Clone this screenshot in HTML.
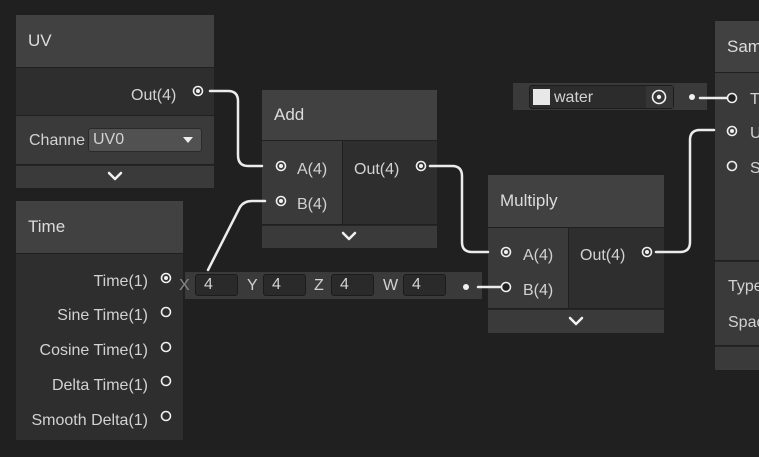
<!DOCTYPE html>
<html><head><style>
*{margin:0;padding:0;box-sizing:border-box}
body{width:759px;height:457px;background:#202020;overflow:hidden;position:relative;font-family:"Liberation Sans",sans-serif;color:#d2d2d2;font-size:16px}
.a{position:absolute}
.h{background:#414141;color:#dcdcdc;font-size:17px;padding-left:12px;display:flex;align-items:center}
.i{background:#3a3a3a}
.o{background:#2e2e2e}
.c{background:#3a3a3a;border-top:1px solid #262626}
.t{position:absolute;white-space:nowrap;margin-top:1px}
.f{position:absolute;background:#2a2a2a;border:1px solid #1c1c1c;border-radius:3px;height:22px;top:2px;padding-left:8px;line-height:20px;font-size:16px}
</style></head><body>
<!-- UV -->
<div class="a h" style="left:16px;top:15px;width:198px;height:52px">UV</div>
<div class="a o" style="left:16px;top:68px;width:198px;height:47px"></div>
<div class="t" style="left:131px;top:86px">Out(4)</div>
<div class="a i" style="left:16px;top:116px;width:198px;height:48px"></div>
<div class="t" style="left:29px;top:131px;font-size:16px">Channe</div>
<div class="a" style="left:88px;top:128px;width:114px;height:24px;background:#515151;border:1px solid #2a2a2a;border-radius:3px;padding-left:4px;font-size:16px;line-height:22px">UV0</div>
<div class="a c" style="left:16px;top:165px;width:198px;height:23px"></div>
<!-- Time -->
<div class="a h" style="left:16px;top:201px;width:167px;height:52px">Time</div>
<div class="a o" style="left:16px;top:254px;width:167px;height:186px"></div>
<div class="t" style="right:611px;top:272px">Time(1)</div>
<div class="t" style="right:611px;top:306px">Sine Time(1)</div>
<div class="t" style="right:611px;top:341px">Cosine Time(1)</div>
<div class="t" style="right:611px;top:376px">Delta Time(1)</div>
<div class="t" style="right:611px;top:411px">Smooth Delta(1)</div>
<!-- Add -->
<div class="a h" style="left:262px;top:90px;width:175px;height:50px">Add</div>
<div class="a i" style="left:262px;top:141px;width:80px;height:83px"></div>
<div class="a o" style="left:343px;top:141px;width:94px;height:83px"></div>
<div class="t" style="left:297px;top:160px">A(4)</div>
<div class="t" style="left:297px;top:195px">B(4)</div>
<div class="t" style="left:354px;top:160px">Out(4)</div>
<div class="a c" style="left:262px;top:225px;width:175px;height:23px"></div>
<!-- Multiply -->
<div class="a h" style="left:488px;top:175px;width:176px;height:52px">Multiply</div>
<div class="a i" style="left:488px;top:228px;width:80px;height:80px"></div>
<div class="a o" style="left:569px;top:228px;width:95px;height:80px"></div>
<div class="t" style="left:523px;top:246px">A(4)</div>
<div class="t" style="left:523px;top:281px">B(4)</div>
<div class="t" style="left:580px;top:246px">Out(4)</div>
<div class="a c" style="left:488px;top:309px;width:176px;height:24px"></div>
<!-- Vector4 inline -->
<div class="a" style="left:185px;top:272px;width:297px;height:27px;background:#3a3a3a">
 <div class="t" style="left:-6px;top:4px;color:#888">X</div>
 <div class="f" style="left:10px;width:43px">4</div>
 <div class="t" style="left:62px;top:4px">Y</div>
 <div class="f" style="left:78px;width:43px">4</div>
 <div class="t" style="left:129px;top:4px">Z</div>
 <div class="f" style="left:146px;width:43px">4</div>
 <div class="t" style="left:198px;top:4px">W</div>
 <div class="f" style="left:218px;width:43px">4</div>
</div>
<!-- water -->
<div class="a" style="left:513px;top:83px;width:194px;height:27px;background:#3a3a3a"></div>
<div class="a" style="left:529px;top:85px;width:145px;height:24px;background:#2c2c2c;border:1px solid #1c1c1c;border-radius:3px"></div>
<div class="a" style="left:533px;top:89px;width:17px;height:16px;background:#e8e8e8"></div>
<div class="t" style="left:554px;top:88px">water</div>
<div class="a" style="left:646px;top:86px;width:27px;height:22px;background:#353535"></div>
<!-- Sample -->
<div class="a h" style="left:715px;top:21px;width:50px;height:51px">Sam</div>
<div class="a i" style="left:715px;top:73px;width:50px;height:187px"></div>
<div class="t" style="left:750px;top:90px">T</div>
<div class="t" style="left:750px;top:124px">U</div>
<div class="t" style="left:750px;top:159px">S</div>
<div class="a i" style="left:715px;top:261px;width:50px;height:84px;border-top:1px solid #262626"></div>
<div class="t" style="left:728px;top:277px">Type</div>
<div class="t" style="left:728px;top:313px">Space</div>
<div class="a c" style="left:715px;top:346px;width:50px;height:24px"></div>
<svg class="a" style="left:0;top:0" width="759" height="457">
<g fill="none" stroke="#ececec" stroke-width="2.5" stroke-linecap="round">
<path d="M210 91 L228 91 Q238 91 238 101 L238 155 Q238 166 248 166 L262 166"/>
<path d="M430 166 L452 166 Q462 166 462 176 L462 242 Q462 252 472 252 L488 252"/>
<path d="M656 252 L680 252 Q690 252 690 242 L690 140 Q690 130 700 130 L714 130"/>
<path d="M208 270 L240 207 Q244 201 252 201 L265 201"/>
<path d="M478 287 L506 287"/>
<path d="M700 98 L732 98"/>
</g>
<g fill="none" stroke="#f0f0f0" stroke-width="1.6">
<circle cx="198" cy="91" r="4.5"/><circle cx="281" cy="166" r="4.5"/><circle cx="281" cy="201" r="4.5"/>
<circle cx="421" cy="166" r="4.5"/><circle cx="506" cy="252" r="4.5"/><circle cx="647" cy="252" r="4.5"/>
<circle cx="732" cy="131" r="4.5"/><circle cx="166" cy="278" r="4.5"/>
<circle cx="166" cy="312" r="4.5"/><circle cx="166" cy="347" r="4.5"/><circle cx="166" cy="381" r="4.5"/><circle cx="166" cy="416" r="4.5"/>
<circle cx="732" cy="166" r="4.5"/>
<circle cx="659" cy="97" r="6.5"/>
</g>
<g fill="#202020" stroke="#f0f0f0" stroke-width="1.6"><circle cx="506" cy="287" r="4.5"/><circle cx="732" cy="98" r="4.5"/></g>
<g fill="#f0f0f0"><circle cx="198" cy="91" r="2"/><circle cx="281" cy="166" r="2"/><circle cx="281" cy="201" r="2"/><circle cx="421" cy="166" r="2"/><circle cx="506" cy="252" r="2"/><circle cx="647" cy="252" r="2"/><circle cx="732" cy="131" r="2"/><circle cx="166" cy="278" r="2"/><circle cx="659" cy="97" r="2.2"/><circle cx="466" cy="287" r="3"/><circle cx="692" cy="97" r="3"/></g>
<g fill="none" stroke="#f0f0f0" stroke-width="2.5" stroke-linecap="round" stroke-linejoin="round">
<polyline points="109,173 115,179 121,173"/>
<polyline points="343,233 349,239 355,233"/>
<polyline points="570,318 576,324 582,318"/>
</g>
<polygon points="183,137 193,137 188,143" fill="#eee"/>
</svg>
</body></html>
